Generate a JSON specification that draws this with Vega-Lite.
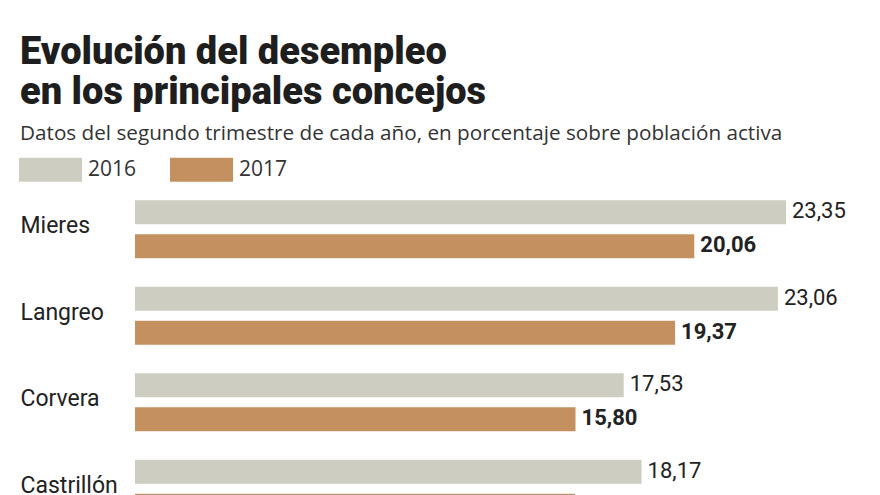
{
  "$schema": "https://vega.github.io/schema/vega-lite/v6.json",
  "width": 697,
  "height": 309,
  "autosize": {"type": "none"},
  "padding": {"left": 135, "top": 186, "right": 48, "bottom": 0},
  "background": "white",
  "config": {
    "view": {"stroke": null},
    "locale": {"number": {"decimal": ",", "thousands": ".", "grouping": [3], "currency": ["", " €"]}}
  },
  "title": {
    "text": ["Evolución del desempleo", "en los principales concejos"],
    "subtitle": "Datos del segundo trimestre de cada año, en porcentaje sobre población activa",
    "anchor": "start",
    "frame": "group",
    "dx": -115,
    "dy": 22,
    "offset": 16,
    "font": "Roboto",
    "fontSize": 38,
    "fontWeight": 900,
    "lineHeight": 40,
    "color": "#1e1e1e",
    "subtitleFont": "Open Sans",
    "subtitleFontSize": 20.7,
    "subtitleColor": "#333333",
    "subtitlePadding": 12
  },
  "data": {
    "values": [
      {"concejo": "Mieres", "year": "2016", "value": 23.35},
      {"concejo": "Mieres", "year": "2017", "value": 20.06},
      {"concejo": "Langreo", "year": "2016", "value": 23.06},
      {"concejo": "Langreo", "year": "2017", "value": 19.37},
      {"concejo": "Corvera", "year": "2016", "value": 17.53},
      {"concejo": "Corvera", "year": "2017", "value": 15.80},
      {"concejo": "Castrillón", "year": "2016", "value": 18.17},
      {"concejo": "Castrillón", "year": "2017", "value": 15.78}
    ]
  },
  "encoding": {
    "y": {
      "field": "concejo",
      "type": "nominal",
      "sort": ["Mieres", "Langreo", "Corvera", "Castrillón"],
      "scale": {"range": [0, 346], "paddingInner": 0.33, "paddingOuter": 0.165},
      "axis": {
        "title": null,
        "domain": false,
        "ticks": false,
        "labelAlign": "left",
        "labelPadding": 115,
        "labelFont": "Roboto",
        "labelFontSize": 23,
        "labelColor": "#222222",
        "labelBaseline": "middle",
        "labelOffset": -3
      }
    },
    "yOffset": {
      "field": "year",
      "type": "nominal",
      "scale": {"paddingInner": 0.294, "paddingOuter": 0}
    },
    "x": {
      "field": "value",
      "type": "quantitative",
      "scale": {"domain": [0, 25]},
      "axis": null
    }
  },
  "layer": [
    {
      "mark": {"type": "bar", "cornerRadius": 0},
      "encoding": {
        "color": {
          "field": "year",
          "type": "nominal",
          "scale": {"domain": ["2016", "2017"], "range": ["#cdcec1", "#c4905f"]},
          "legend": {
            "title": null,
            "orient": "none",
            "direction": "horizontal",
            "legendX": -116,
            "legendY": -48,
            "symbolType": "M-1,-0.381L1,-0.381L1,0.381L-1,0.381Z",
            "symbolSize": 3969,
            "symbolStrokeWidth": 0,
            "labelFont": "Open Sans",
            "labelFontSize": 21,
            "labelColor": "#333333",
            "labelOffset": 6,
            "columnPadding": 33,
            "padding": 0
          }
        }
      }
    },
    {
      "transform": [{"filter": "datum.year === '2016'"}],
      "mark": {"type": "text", "align": "left", "baseline": "middle", "dx": 6, "dy": -1, "font": "Roboto", "fontSize": 22, "color": "#222222"},
      "encoding": {"text": {"field": "value", "type": "quantitative", "format": ".2f"}}
    },
    {
      "transform": [{"filter": "datum.year === '2017'"}],
      "mark": {"type": "text", "align": "left", "baseline": "middle", "dx": 6, "dy": -1, "font": "Roboto", "fontSize": 22, "fontWeight": "bold", "color": "#222222"},
      "encoding": {"text": {"field": "value", "type": "quantitative", "format": ".2f"}}
    }
  ]
}
